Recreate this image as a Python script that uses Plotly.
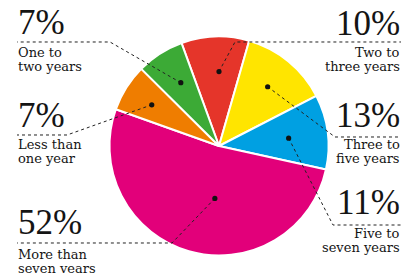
import math
import plotly.graph_objects as go

# ---- data ----
categories = ["Two to three years", "Three to five years", "Five to seven years",
              "More than seven years", "Less than one year", "One to two years"]
values = [10, 13, 11, 52, 7, 7]
pct_labels = ["10%", "13%", "11%", "52%", "7%", "7%"]
line1 = ["Two to", "Three to", "Five to", "More than", "Less than", "One to"]
line2 = ["three years", "five years", "seven years", "seven years", "one year", "two years"]
colors = ["#E5352A", "#FFE500", "#00A0E2", "#E2007A", "#EF7D00", "#3CAA36"]

# ---- layout constants (pixels) ----
W, H = 416, 273
CX, CY, R = 219, 146, 109.5
ROT = -20
TXT = "#141414"
PCT_FONT = "'Liberation Serif', 'Times New Roman', Tinos, serif"
SUB_FONT = "'DejaVu Serif', 'Liberation Serif', serif"

def px(x):
    return x / W

def py(y):
    return 1 - y / H

# per-label placement: side, percent centre y, line1 centre y, line2 centre y,
# horizontal rule y, elbow x, dot radius fraction, dot angle offset
label_cfg = [
    dict(side="r", py=23.5, l1=52.5, l2=66.5, ry=42, ex=235, rf=0.68, da=2),
    dict(side="r", py=115, l1=144.5, l2=158.5, ry=137, ex=335, rf=0.70, da=0),
    dict(side="r", py=202.5, l1=233.5, l2=247.5, ry=225, ex=333, rf=0.64, da=1),
    dict(side="l", py=222, l1=254.5, l2=268.5, ry=243, ex=172, rf=0.48, da=-11.5),
    dict(side="l", py=115, l1=144.5, l2=158.5, ry=135, ex=67, rf=0.72, da=-0.7),
    dict(side="l", py=22.5, l1=52.5, l2=66.5, ry=42, ex=110, rf=0.675, da=1.5),
]

fig = go.Figure()
fig.add_trace(go.Pie(
    labels=categories, values=values, sort=False, direction="clockwise",
    rotation=ROT, marker=dict(colors=colors, line=dict(color="white", width=2)),
    textinfo="none", hoverinfo="label+percent", showlegend=False,
    domain=dict(x=[px(CX - R), px(CX + R)], y=[py(CY + R), py(CY - R)]),
))

shapes = []
annotations = []
total = sum(values)
cum = 0
LX, RX = 16, 402
for i, v in enumerate(values):
    cfg = label_cfg[i]
    mid = ROT + (cum + v / 2) / total * 360 + cfg["da"]
    cum += v
    a = math.radians(mid)
    dx = CX + cfg["rf"] * R * math.sin(a)
    dy = CY - cfg["rf"] * R * math.cos(a)
    end = RX - 1 if cfg["side"] == "r" else LX + 1
    path = "M {:.4f},{:.4f} L {:.4f},{:.4f} L {:.4f},{:.4f}".format(
        px(dx), py(dy), px(cfg["ex"]), py(cfg["ry"]), px(end), py(cfg["ry"]))
    shapes.append(dict(type="path", xref="paper", yref="paper", path=path,
                       line=dict(color="#222", width=1, dash="dot"), layer="above"))
    rr = 2.6
    shapes.append(dict(type="circle", xref="paper", yref="paper",
                       x0=px(dx - rr), x1=px(dx + rr), y0=py(dy + rr), y1=py(dy - rr),
                       fillcolor="#111", line=dict(width=0), layer="above"))
    xa = "right" if cfg["side"] == "r" else "left"
    xx = px(RX) if cfg["side"] == "r" else px(LX)
    annotations.append(dict(x=xx, y=py(cfg["py"]), xref="paper", yref="paper",
                            text=pct_labels[i], showarrow=False, xanchor=xa, yanchor="middle",
                            font=dict(family=PCT_FONT, size=35, color=TXT)))
    for t, yy in ((line1[i], cfg["l1"]), (line2[i], cfg["l2"])):
        annotations.append(dict(x=xx, y=py(yy), xref="paper", yref="paper",
                                text=t, showarrow=False, xanchor=xa, yanchor="middle",
                                font=dict(family=SUB_FONT, size=13, color=TXT)))

fig.update_layout(width=W, height=H, margin=dict(l=0, r=0, t=0, b=0),
                  paper_bgcolor="white", plot_bgcolor="white",
                  shapes=shapes, annotations=annotations)
fig.write_html("out.html", config={"displayModeBar": False},
               post_script="document.body.style.margin='0';document.body.style.overflow='hidden';")
